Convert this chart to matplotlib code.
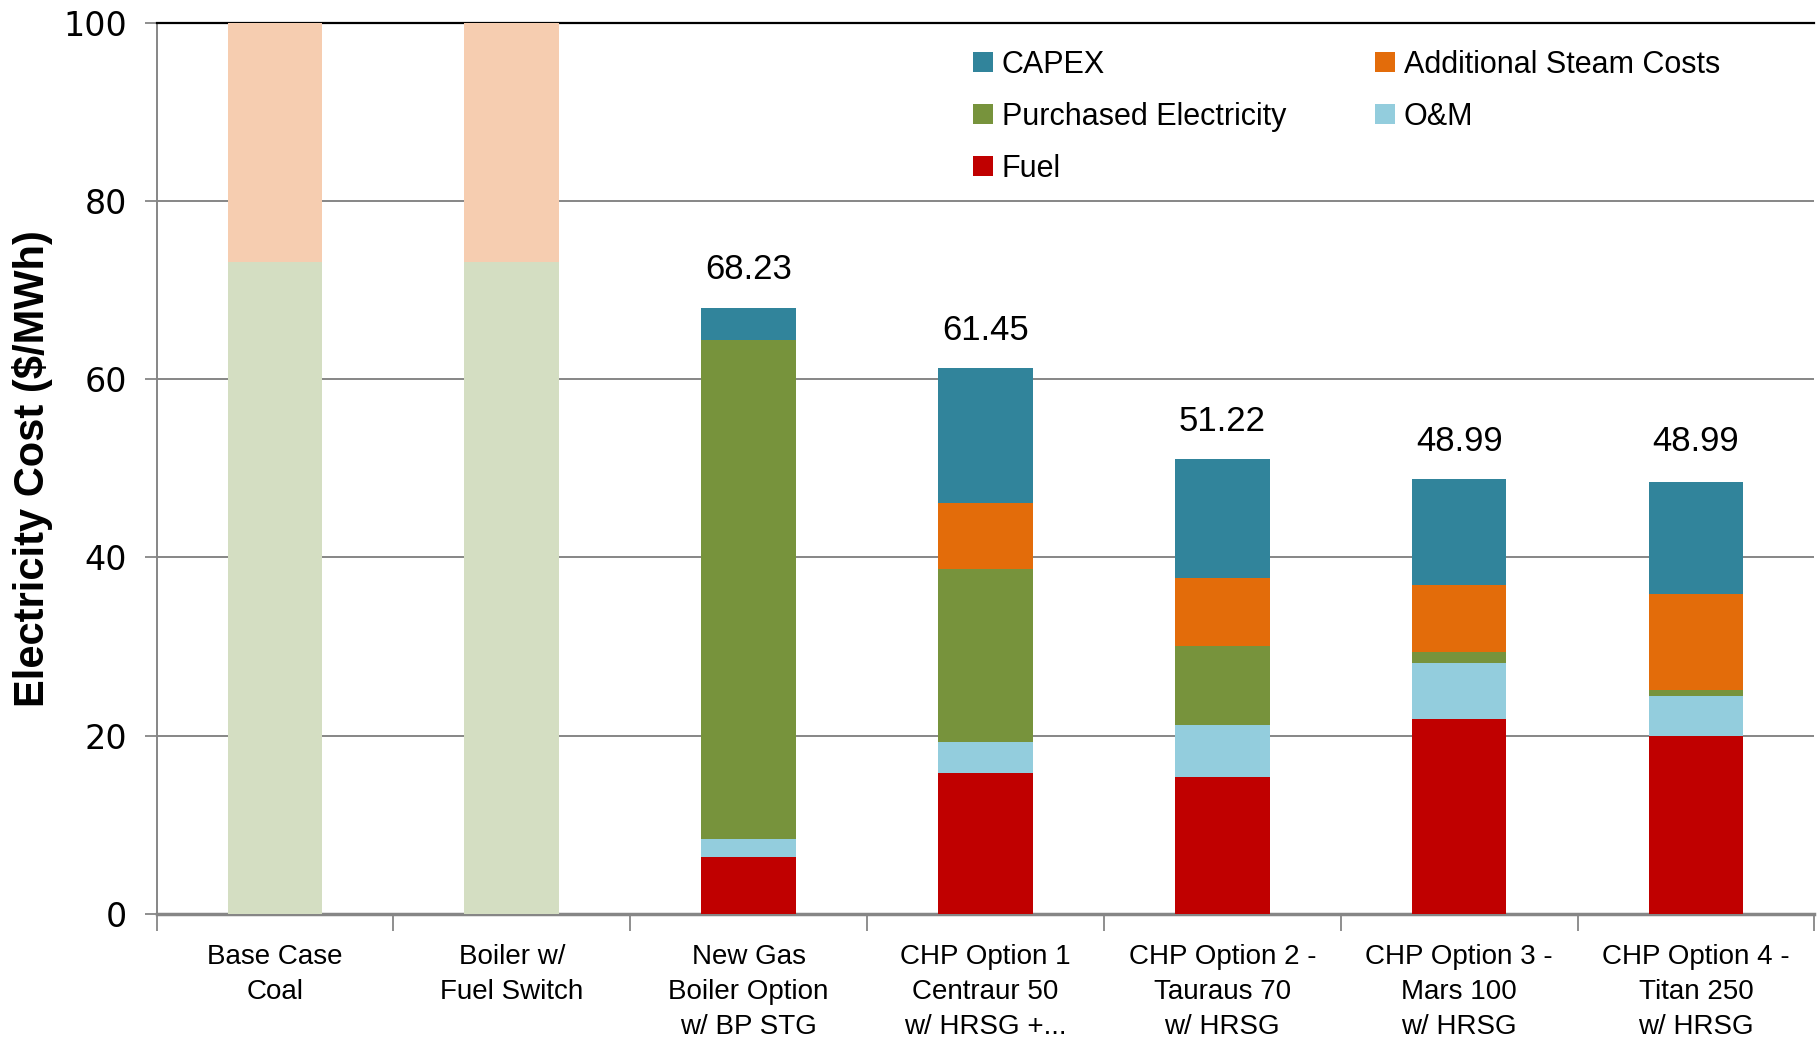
import matplotlib.pyplot as plt
import numpy as np

categories = ["Base Case\nCoal", "Boiler w/\nFuel Switch", "New Gas\nBoiler Option\nw/ BP STG",
              "CHP Option 1\nCentraur 50\nw/ HRSG +...", "CHP Option 2 -\nTauraus 70\nw/ HRSG",
              "CHP Option 3 -\nMars 100\nw/ HRSG", "CHP Option 4 -\nTitan 250\nw/ HRSG"]

# base cases (drawn faded, not in legend)
base_lower = [73.2, 73.2, 0, 0, 0, 0, 0]
base_upper = [27.0, 27.0, 0, 0, 0, 0, 0]

fuel = [0, 0, 6.3, 15.8, 15.3, 21.9, 19.9]
om = [0, 0, 2.1, 3.5, 5.9, 6.2, 4.5]
purchased = [0, 0, 56.0, 19.4, 8.9, 1.3, 0.7]
steam = [0, 0, 0, 7.4, 7.6, 7.5, 10.8]
capex = [0, 0, 3.6, 15.2, 13.4, 11.9, 12.6]

totals = [None, None, 68.23, 61.45, 51.22, 48.99, 48.99]

c_capex = "#31849B"
c_steam = "#E36C0A"
c_purch = "#77933C"
c_om = "#93CDDD"
c_fuel = "#C00000"

sans = ["Liberation Sans", "DejaVu Sans"]

fig = plt.figure(figsize=(18.18, 10.41), dpi=100)
ax = fig.add_axes([0.0861, 0.1224, 0.9119, 0.8553])

x = np.arange(len(categories))
w = 0.40

ax.bar(x, base_lower, w, color="#D4DEC2", zorder=3)
ax.bar(x, base_upper, w, bottom=base_lower, color="#F6CDB0", zorder=3)

bottom = np.zeros(len(categories))
series = [("Fuel", fuel, c_fuel), ("O&M", om, c_om), ("Purchased Electricity", purchased, c_purch),
          ("Additional Steam Costs", steam, c_steam), ("CAPEX", capex, c_capex)]
handles = {}
for name, vals, col in series:
    h = ax.bar(x, vals, w, bottom=bottom, color=col, zorder=3, label=name)
    handles[name] = h
    bottom = bottom + np.array(vals)

for i, t in enumerate(totals):
    if t is None:
        continue
    ax.annotate(f"{t:.2f}", (x[i], t), xytext=(0, 26), textcoords="offset points",
                ha="center", va="center", fontsize=25, family=sans)

ax.set_ylim(0, 100)
ax.set_xlim(-0.5, len(categories) - 0.5)
ax.set_yticks(range(0, 101, 20))
ax.tick_params(axis="y", labelsize=24, length=9, width=1.3, color="#868686", pad=12)
ax.yaxis.grid(True, color="#868686", linewidth=1.4, zorder=0)
ax.set_axisbelow(True)

ax.set_xticks(x)
ax.set_xticklabels(categories, family=sans, fontsize=20, linespacing=1.45)
ax.set_xticks(np.arange(-0.5, len(categories)), minor=True)
ax.tick_params(axis="x", which="major", length=0, pad=22)
ax.tick_params(axis="x", which="minor", length=12, width=1.3, color="#868686")

ax.set_ylabel("Electricity Cost ($/MWh)", family=sans, fontweight="bold", fontsize=30, labelpad=8)

for s in ["left", "bottom"]:
    ax.spines[s].set_color("#868686")
    ax.spines[s].set_linewidth(1.4)
ax.spines["bottom"].set_linewidth(2.5)
ax.spines["top"].set_color("black")
ax.spines["top"].set_linewidth(1.6)
ax.spines["right"].set_visible(False)

order = ["CAPEX", "Purchased Electricity", "Fuel", "Additional Steam Costs", "O&M"]
ax.legend([handles[n] for n in order], order, ncol=2, loc="upper left",
          bbox_to_anchor=(0.485, 0.984), frameon=False, prop={"family": sans, "size": 22},
          handlelength=0.65, handleheight=0.65, handletextpad=0.3, labelspacing=0.72,
          columnspacing=2.9, borderaxespad=0)

fig.savefig("out.png", dpi=100)
